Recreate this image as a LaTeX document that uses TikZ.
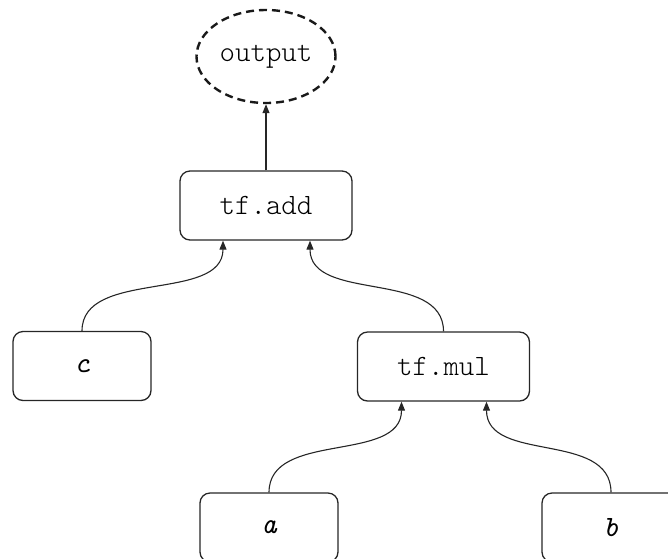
\documentclass[tikz,border=0pt]{standalone}
\usepackage{fontspec}
\setmonofont{Latin Modern Mono Light}
\newfontfamily\italmono{Latin Modern Mono}
\usetikzlibrary{arrows.meta,shapes.geometric}
\begin{document}
\begin{tikzpicture}[x=1pt,y=-1pt,
  op/.style={draw=black!85,line width=1.3pt,rounded corners=10pt,
    minimum width=172pt,minimum height=69pt,inner sep=0pt,
    font=\ttfamily\fontsize{29.5}{32}\selectfont},
  leaf/.style={op,minimum width=138pt,font=\italmono\itshape\fontsize{29.5}{32}\selectfont},
  outnode/.style={draw=black!90,ellipse,line width=2.4pt,dash pattern=on 8pt off 5pt,
    minimum width=139pt,minimum height=93pt,inner sep=0pt,
    font=\ttfamily\fontsize{29.5}{32}\selectfont},
  link/.style={line width=1.1pt,draw=black!85,
    -{Triangle[length=9pt,width=7pt]}},
]
\useasboundingbox (0,0) rectangle (668,558);
\node[outnode] (out) at (266,56.5) {output};
\node[op] (add) at (266,205.5) {tf.add};
\node[leaf] (c) at (82,366) {c};
\node[op] (mul) at (443.5,366.5) {tf.mul};
\node[leaf] (a) at (269,527.5) {a};
\node[leaf] (b) at (611,527.5) {b};

\draw[link] (add.north) -- (out.south);
\draw[link] (c.north) .. controls +(0,-62) and +(0,62) .. ([xshift=-43pt]add.south);
\draw[link] (mul.north) .. controls +(0,-62) and +(0,62) .. ([xshift=44pt]add.south);
\draw[link] (a.north) .. controls +(0,-62) and +(0,62) .. ([xshift=-42pt]mul.south);
\draw[link] (b.north) .. controls +(0,-62) and +(0,62) .. ([xshift=43pt]mul.south);
\end{tikzpicture}
\end{document}
